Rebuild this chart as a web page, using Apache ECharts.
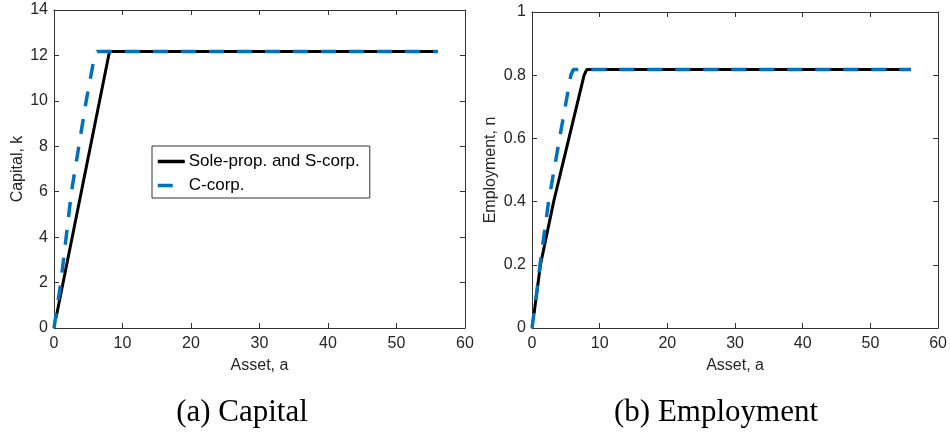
<!DOCTYPE html>
<html>
<head>
<meta charset="utf-8">
<script src="https://cdn.jsdelivr.net/npm/echarts@6/dist/echarts.min.js"></script>
<style>
  html, body { margin: 0; padding: 0; background: #fff; }
  #chart { width: 950px; height: 434px; }
</style>
</head>
<body>
<div id="chart"></div>
<script>
// asset a on x, capital k / employment n on y
const assetSoleK = [0.29, 8.1, 56];
const capitalSole = [0.44, 12.17, 12.17];
const assetCK = [0, 1.0, 2.55, 4.7, 5.9, 6.3, 56];
const capitalC = [0, 2.0, 6, 10, 11.95, 12.17, 12.17];

const assetSoleN = [0.3, 1.25, 3.2, 5.45, 7.7, 8.1, 56];
const employSole = [0.045, 0.2, 0.4, 0.6, 0.8, 0.818, 0.818];
const assetCN = [0, 0.68, 1.18, 2.45, 4.07, 5.74, 6.1, 56];
const employC = [0, 0.11, 0.2, 0.4, 0.6, 0.8, 0.818, 0.818];

const seriesNames = ['Sole-prop. and S-corp.', 'C-corp.'];
const captions = ['(a) Capital', '(b) Employment'];

const pairs = (xs, ys) => xs.map((x, i) => [x, ys[i]]);

const axisColor = '#333';
const textColor = '#262626';
const sans = 'Liberation Sans';

function xAxes(gridIndex) {
  const base = {
    gridIndex: gridIndex,
    type: 'value',
    min: 0, max: 60, interval: 10,
    splitLine: { show: false },
    axisLine: { show: true, onZero: false, lineStyle: { color: axisColor, width: 1 } },
    axisTick: { show: true, inside: true, length: 5, lineStyle: { color: axisColor } }
  };
  return [
    Object.assign({}, base, {
      position: 'bottom',
      name: 'Asset, a', nameLocation: 'middle', nameGap: 30,
      nameTextStyle: { fontFamily: sans, fontSize: 16, color: textColor },
      axisLabel: { margin: 8, fontFamily: sans, fontSize: 16, color: textColor }
    }),
    Object.assign({}, base, { position: 'top', axisLabel: { show: false } })
  ];
}

function yAxes(gridIndex, max, interval, name, gap) {
  const base = {
    gridIndex: gridIndex,
    type: 'value',
    min: 0, max: max, interval: interval,
    splitLine: { show: false },
    axisLine: { show: true, onZero: false, lineStyle: { color: axisColor, width: 1 } },
    axisTick: { show: true, inside: true, length: 5, lineStyle: { color: axisColor } }
  };
  return [
    Object.assign({}, base, {
      position: 'left',
      name: name, nameLocation: 'middle', nameGap: gap,
      nameTextStyle: { fontFamily: sans, fontSize: 16, color: textColor },
      axisLabel: { margin: 6, fontFamily: sans, fontSize: 16, color: textColor }
    }),
    Object.assign({}, base, { position: 'right', axisLabel: { show: false } })
  ];
}

function soleSeries(x, y, data) {
  return {
    name: seriesNames[0], type: 'line', xAxisIndex: x, yAxisIndex: y,
    data: data, showSymbol: false, symbol: 'none', animation: false,
    lineStyle: { color: '#000', width: 3 }, itemStyle: { color: '#000' }
  };
}
function cSeries(x, y, data) {
  return {
    name: seriesNames[1], type: 'line', xAxisIndex: x, yAxisIndex: y,
    data: data, showSymbol: false, symbol: 'none', animation: false,
    lineStyle: { color: '#0072BD', width: 3.5, type: [15, 13] }, itemStyle: { color: '#0072BD' }
  };
}

const chart = echarts.init(document.getElementById('chart'));
chart.setOption({
  backgroundColor: '#fff',
  animation: false,
  grid: [
    { left: 54, top: 10, width: 411, height: 318 },
    { left: 532, top: 12, width: 407, height: 316 }
  ],
  xAxis: xAxes(0).concat(xAxes(1)),
  yAxis: yAxes(0, 14, 2, 'Capital, k', 28).concat(yAxes(1, 1, 0.2, 'Employment, n', 33)),
  legend: {
    left: 152, top: 146,
    orient: 'vertical',
    data: seriesNames,
    itemWidth: 27, itemHeight: 14, itemGap: 7,
    padding: [7, 10, 4, 4],
    backgroundColor: '#fff',
    borderColor: axisColor, borderWidth: 1, borderRadius: 0,
    itemStyle: { opacity: 0 },
    lineStyle: { width: 3.5 },
    textStyle: { fontFamily: sans, fontSize: 17, color: '#000', lineHeight: 14, padding: [0, 0, 0, -1] }
  },
  graphic: [
    { type: 'text', x: 242, y: 413, style: { text: captions[0], textAlign: 'center', textVerticalAlign: 'middle', font: '31px "Liberation Serif"', fill: '#000' } },
    { type: 'text', x: 716, y: 413, style: { text: captions[1], textAlign: 'center', textVerticalAlign: 'middle', font: '31px "Liberation Serif"', fill: '#000' } }
  ],
  series: [
    soleSeries(0, 0, pairs(assetSoleK, capitalSole)),
    cSeries(0, 0, pairs(assetCK, capitalC)),
    soleSeries(2, 2, pairs(assetSoleN, employSole)),
    cSeries(2, 2, pairs(assetCN, employC))
  ]
});
</script>
</body>
</html>
